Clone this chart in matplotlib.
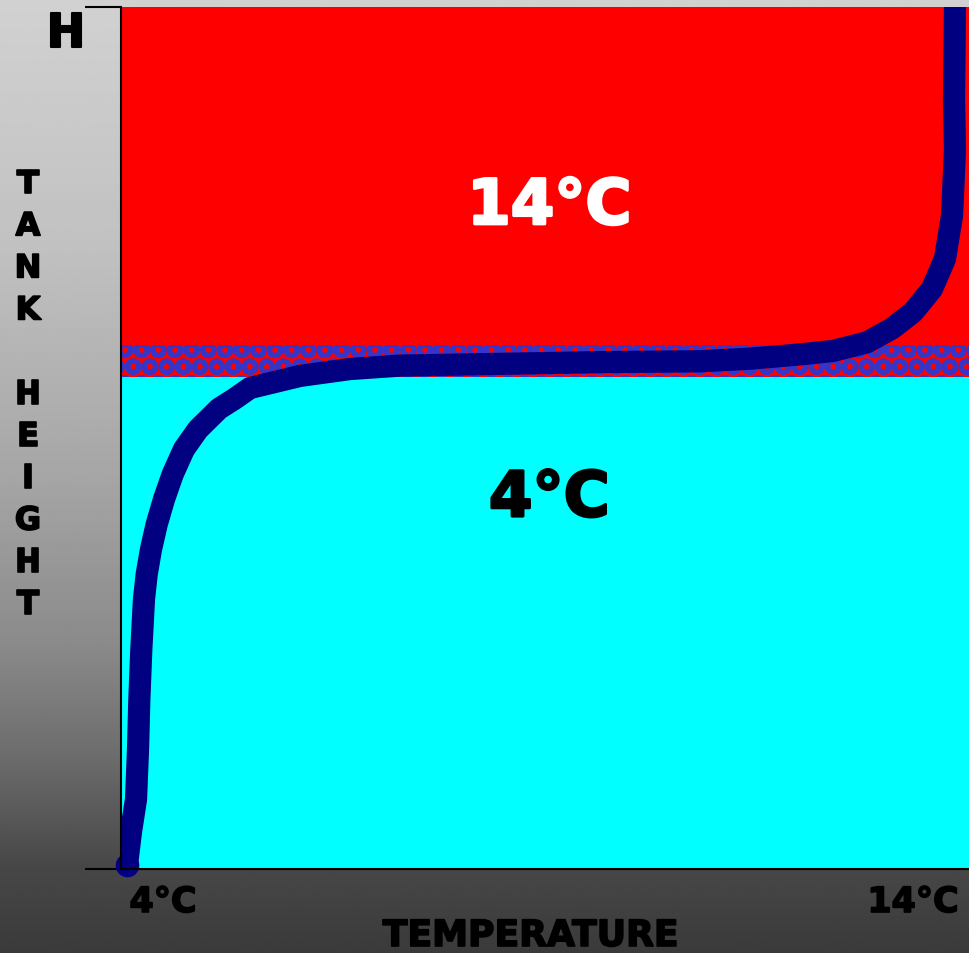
import numpy as np
import matplotlib.pyplot as plt
import matplotlib.patheffects as pe

# Temperatur (°C) og relativ tankhøjde langs profilet
temp = [4.000, 4.048, 4.109, 4.133, 4.149, 4.173, 4.205, 4.238, 4.290, 4.359,
        4.447, 4.552, 4.688, 4.857, 5.111, 5.292, 5.486, 6.089, 6.693, 7.297,
        8.505, 9.713, 10.920, 11.524, 12.128, 12.527, 12.937, 13.239, 13.493,
        13.722, 13.879, 13.964, 14.000, 13.988, 14.000]
height = [0.005, 0.043, 0.081, 0.139, 0.197, 0.255, 0.313, 0.342, 0.371, 0.400,
          0.429, 0.458, 0.487, 0.510, 0.534, 0.545, 0.558, 0.572, 0.580, 0.584,
          0.586, 0.588, 0.589, 0.592, 0.597, 0.601, 0.611, 0.627, 0.646,
          0.673, 0.708, 0.758, 0.835, 0.893, 1.000]

# Lagdeling i tanken (relativ højde)
cold_top = 0.571   # koldt vand op til her
mix_top = 0.608    # blandingszone op til her

cold_label = "4°C"
warm_label = "14°C"
x_min_label, x_max_label = "4°C", "14°C"

W, H = 969, 954
fig = plt.figure(figsize=(W / 100, H / 100), dpi=100)

# Baggrund: grå gradient, lys foroven og mørk forneden
bg = fig.add_axes([0, 0, 1, 1], zorder=-1)
t = np.linspace(0, 1, 400)
stops_t = [0.0, 0.25, 0.5, 0.68, 0.8, 0.91, 1.0]
stops_v = [0.82, 0.76, 0.65, 0.54, 0.42, 0.28, 0.23]
shade = np.interp(t, stops_t, stops_v)
bg.imshow(np.repeat(shade[:, None], 10, axis=1), cmap="gray", vmin=0, vmax=1,
          aspect="auto", extent=[0, 1, 0, 1])
bg.set_axis_off()

def fx(px):
    return px / W

def fy(py):
    return 1 - py / H

def heavy(color, w):
    # gør DejaVu Bold lidt federe
    return [pe.withStroke(linewidth=w, foreground=color)]

ax = fig.add_axes([fx(121), fy(870), fx(969) - fx(121), fy(8) - fy(870)])
ax.set_xlim(3.9275, 14.169)
ax.set_ylim(0, 1)

# Vandlag
ax.axhspan(0, cold_top, color="#00ffff", lw=0)
plt.rcParams["hatch.linewidth"] = 3.5
ax.axhspan(cold_top, mix_top, facecolor="#ff0000", edgecolor="#3535c8",
           hatch="O", lw=0)
ax.axhspan(mix_top, 1, color="#ff0000", lw=0)

# Temperaturprofil
ax.plot(temp, height, color="#000080", lw=16, solid_capstyle="butt",
        solid_joinstyle="round")
ax.plot(temp[0], height[0], "o", color="#000080", ms=16, clip_on=False)

# Akser
for s in ["top", "right"]:
    ax.spines[s].set_visible(False)
ax.spines["left"].set_linewidth(1.5)
ax.spines["bottom"].set_linewidth(1.5)
ax.set_xticks([])
ax.set_yticks([0, 1])
ax.set_yticklabels([])
ax.tick_params(axis="y", length=26, width=1.5, direction="out")

ax.text(9.1, 0.768, warm_label, color="white", fontsize=45, fontweight="bold",
        ha="center", va="center", path_effects=heavy("white", 2))
ax.text(9.1, 0.429, cold_label, color="black", fontsize=45, fontweight="bold",
        ha="center", va="center", path_effects=heavy("black", 2))

# Aksetitler
fig.text(fx(66), fy(35), "H", fontsize=33, fontweight="bold", ha="center",
         va="center", path_effects=heavy("black", 1.5))
fig.text(fx(28), fy(396), "T\nA\nN\nK\n\nH\nE\nI\nG\nH\nT", fontsize=23,
         fontweight="bold", ha="center", va="center", linespacing=1.46,
         path_effects=heavy("black", 1.2))
fig.text(fx(163), fy(903), x_min_label, fontsize=25, fontweight="bold",
         ha="center", va="center", path_effects=heavy("black", 1.2))
fig.text(fx(913), fy(903), x_max_label, fontsize=25, fontweight="bold",
         ha="center", va="center", path_effects=heavy("black", 1.2))
fig.text(fx(531), fy(937), "TEMPERATURE", fontsize=26, fontweight="bold",
         ha="center", va="center", path_effects=heavy("black", 1.2))

plt.savefig("out.png", dpi=100)
